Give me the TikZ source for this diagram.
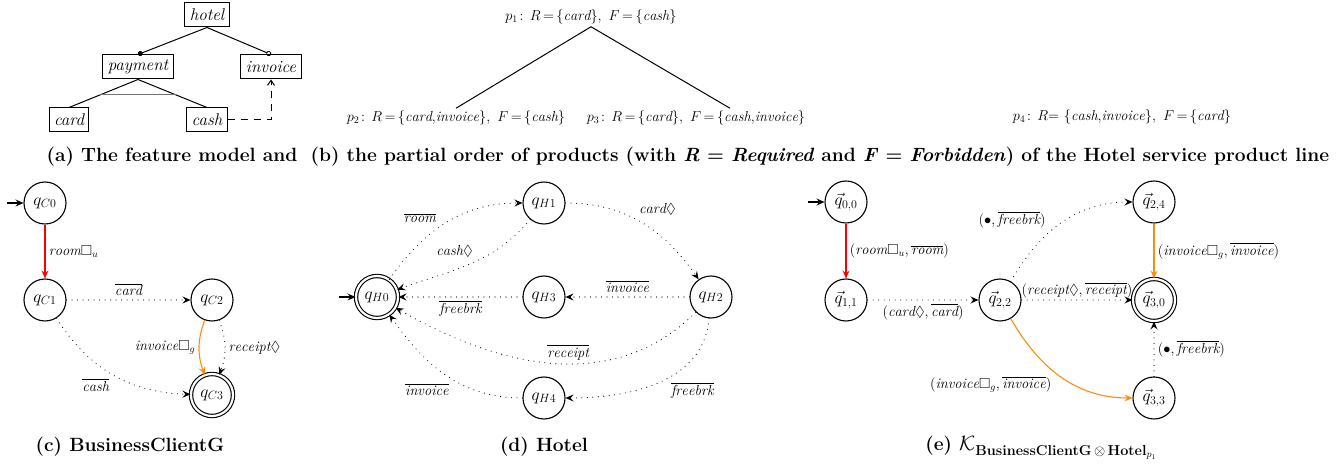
\documentclass[tikz,border=0pt]{standalone}
\usepackage{amsmath}
\usepackage{amssymb}
\usepackage{fontspec}
\usetikzlibrary{arrows.meta, automata, calc, positioning}
\definecolor{mustred}{rgb}{1, 0, 0}
\definecolor{mayorange}{rgb}{1, 0.55, 0.05}

\begin{document}
\begin{tikzpicture}[x=1pt, y=1pt, line width=1.1pt,
    >={Stealth[length=8pt, width=7pt, inset=3pt]},
    font=\fontsize{14.5}{17}\selectfont,
    feature/.style={draw, line width=1pt, font=\fontsize{17}{20}\selectfont\itshape, minimum height=24pt, inner xsep=5pt, inner ysep=0pt},
    product/.style={inner sep=2pt, font=\fontsize{14.4}{17}\selectfont},
    caption/.style={font=\fontsize{19.2}{23}\selectfont\bfseries},
    every state/.style={draw, line width=1.1pt, minimum size=42pt, inner sep=0pt, font=\fontsize{18}{20}\selectfont},
    accepting/.style={double, double distance=2.2pt},
    initial text={}, initial distance=16pt,
    dots/.style={->, dash pattern=on 0pt off 5.5pt, line cap=round},
    must/.style={->, draw=mustred},
    may/.style={->, draw=mayorange}]

  \useasboundingbox (0,0) rectangle (1344,471);

  % draws the feature model
  \node[feature] (hotel) at (207,456) {hotel};
  \node[feature] (payment) at (138,404) {payment};
  \node[feature] (invoice) at (271,404) {invoice};
  \node[feature] (card) at (69,351) {card};
  \node[feature] (cash) at (207,351) {cash};
  \draw[line width=1pt, -{Circle[length=5pt]}] (hotel.south) -- (payment.north);
  \draw[line width=1pt, -{Circle[open, length=5pt, line width=0.8pt]}] (hotel.south) -- (invoice.north);
  \draw[line width=1pt] (payment.south) -- (card.north);
  \draw[line width=1pt] (payment.south) -- (cash.north);
  \draw[line width=1pt, black!55] ($(payment.south)!0.55!(card.north)$) -- ($(payment.south)!0.55!(cash.north)$);
  \draw[line width=1pt, dash pattern=on 7pt off 6pt, -{Straight Barb[length=5pt, width=7pt]}] (cash.east) -| (invoice.south);

  % draws the partial order of products
  \node[product] (p1) at (591,454) {$p_1\!:\,R\,{=}\,\{\mathit{card}\},\ F\,{=}\,\{\mathit{cash}\}$};
  \node[product] (p2) at (456,353) {$p_2\!:\,R\,{=}\,\{\mathit{card},\!\mathit{invoice}\},\ F\,{=}\,\{\mathit{cash}\}$};
  \node[product] (p3) at (696,353) {$p_3\!:\,R\,{=}\,\{\mathit{card}\},\ F\,{=}\,\{\mathit{cash},\!\mathit{invoice}\}$};
  \node[product] (p4) at (1122,354) {$p_4\!:\,R{=}\ \{\mathit{cash},\!\mathit{invoice}\},\ F\,{=}\,\{\mathit{card}\}$};
  \draw[line width=1pt] (p1.south) -- (p2.north);
  \draw[line width=1pt] (p1.south) -- ([xshift=34pt]p3.north);

  \node[caption] (capa) at (172,314) {(a) The feature model and};
  \node[caption] (capb) at (820,314) {(b) the partial order of products (with \textit{R} = \textit{Required} and \textit{F} = \textit{Forbidden}) of the Hotel service product line};

  % draws BusinessClientG
  \node[state, initial] (qC0) at (45,268) {$q_{C0}$};
  \node[state] (qC1) at (45,171) {$q_{C1}$};
  \node[state] (qC2) at (212,171) {$q_{C2}$};
  \node[state, accepting] (qC3) at (212,76) {$q_{C3}$};
  \draw[must] (qC0) -- node[right] {$\mathit{room}\Box_u$} (qC1);
  \draw[dots] (qC1) -- node[above] {$\overline{\mathit{card}}$} (qC2);
  \draw[may] (qC2) to[bend right=20] node[left] {$\mathit{invoice}\Box_g$} (qC3);
  \draw[dots] (qC2) to[bend left=20] node[right] {$\mathit{receipt}\Diamond$} (qC3);
  \draw[dots] (qC1) to[bend right=28] node[below left] {$\overline{\mathit{cash}}$} (qC3);
  \node[caption] (capc) at (130,24) {(c) BusinessClientG};

  % draws Hotel
  \node[state, initial, accepting] (qH0) at (377,174) {$q_{H0}$};
  \foreach \n/\x/\y/\t in {qH1/544/268/H1, qH3/544/174/H3, qH2/711/174/H2, qH4/544/73/H4}
    \node[state] (\n) at (\x,\y) {$q_{\t}$};
  \draw[dots] (qH0) to[out=55, in=180] node[above left, pos=0.45] {$\overline{\mathit{room}}$} (qH1);
  \draw[dots] (qH1) to[out=230, in=20] node[above left, pos=0.45] {$\mathit{cash}\Diamond$} (qH0);
  \draw[dots] (qH1) to[out=0, in=125] node[above right, pos=0.45] {$\mathit{card}\Diamond$} (qH2);
  \draw[dots] (qH2) -- node[above] {$\overline{\mathit{invoice}}$} (qH3);
  \draw[dots] (qH3) -- node[below] {$\overline{\mathit{freebrk}}$} (qH0);
  \draw[dots] (qH2) to[out=225, in=-30] node[above, pos=0.45] {$\overline{\mathit{receipt}}$} (qH0);
  \draw[dots] (qH2) to[out=-95, in=0] node[below right, pos=0.45] {$\overline{\mathit{freebrk}}$} (qH4);
  \draw[dots] (qH4) to[out=180, in=-55] node[below left, pos=0.45] {$\overline{\mathit{invoice}}$} (qH0);
  \node[caption] (capd) at (544,24) {(d) Hotel};

  % draws the product automaton
  \node[state, initial] (q00) at (846,269) {$\vec{q}_{0,0}$};
  \foreach \n/\x/\y/\t in {q11/846/171/{1,1}, q22/1000/171/{2,2}, q24/1154/269/{2,4}, q33/1154/73/{3,3}}
    \node[state] (\n) at (\x,\y) {$\vec{q}_{\t}$};
  \node[state, accepting] (q30) at (1154,171) {$\vec{q}_{3,0}$};
  \draw[must] (q00) -- node[right] {$(\mathit{room}\Box_u, \overline{\mathit{room}})$} (q11);
  \draw[dots] (q11) -- node[below] {$(\mathit{card}\Diamond, \overline{\mathit{card}})$} (q22);
  \draw[dots] (q22) to[out=60, in=180] node[above left, pos=0.4] {$(\bullet, \overline{\mathit{freebrk}})$} (q24);
  \draw[dots] (q22) -- node[above, inner sep=1pt] {$(\mathit{receipt}\Diamond, \overline{\mathit{receipt}})$} (q30);
  \draw[may] (q24) -- node[right] {$(\mathit{invoice}\Box_g, \overline{\mathit{invoice}})$} (q30);
  \draw[dots] (q33) -- node[right] {$(\bullet, \overline{\mathit{freebrk}})$} (q30);
  \draw[may] (q22) to[out=-60, in=180] node[below left, pos=0.45] {$(\mathit{invoice}\Box_g, \overline{\mathit{invoice}})$} (q33);
  \node[caption] (cape) at (1041,23) {(e) $\mathcal{K}$\raisebox{-5pt}{\fontsize{14.4}{17}\selectfont BusinessClientG\,$\otimes$\,Hotel$_{p_1}$}};
\end{tikzpicture}
\end{document}
